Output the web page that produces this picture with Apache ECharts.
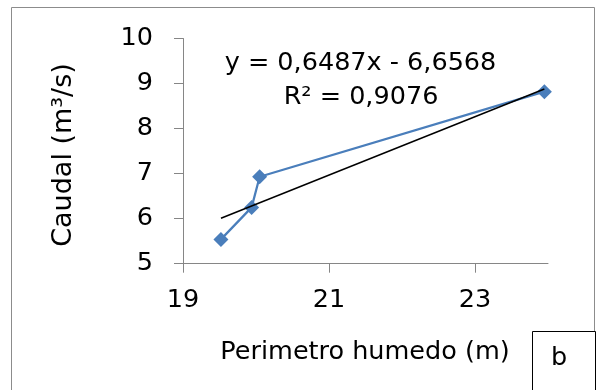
<!DOCTYPE html>
<html>
<head>
<meta charset="utf-8">
<script src="https://cdn.jsdelivr.net/npm/echarts@6/dist/echarts.min.js"></script>
<style>html,body{margin:0;padding:0;background:#fff}#c{width:598px;height:390px}</style>
</head>
<body>
<div id="c"></div>
<script>
const perimetro = [19.52, 19.94, 20.05, 23.95];
const caudal = [5.54, 6.25, 6.93, 8.82];
const trendX = [19.52, 23.95];
const trendY = [6.01, 8.88];
const xTicks = [19, 21, 23];
const yTicks = [5, 6, 7, 8, 9, 10];
const xTitle = 'Perimetro humedo (m)';
const yTitle = 'Caudal (m³/s)';
const eqLine1 = 'y = 0,6487x - 6,6568';
const eqLine2 = 'R² = 0,9076';
const panelLabel = 'b';

const FONT = 'DejaVu Sans';
const FS = 25.5;
const axisGray = '#868686';

const chart = echarts.init(document.getElementById('c'), null, {renderer: 'canvas'});
chart.setOption({
  animation: false,
  backgroundColor: '#fff',
  grid: {left: 183, right: 50, top: 38.5, bottom: 126.3, containLabel: false},
  xAxis: {
    type: 'value', min: 19, max: 24, interval: 2,
    splitLine: {show: false},
    axisLine: {show: true, onZero: false, lineStyle: {color: axisGray, width: 1}},
    axisTick: {show: true, length: 9, customValues: xTicks, lineStyle: {color: axisGray}},
    axisLabel: {customValues: xTicks, margin: 24, color: '#000', fontFamily: FONT, fontSize: FS}
  },
  yAxis: {
    type: 'value', min: 5, max: 10, interval: 1,
    splitLine: {show: false},
    axisLine: {show: true, onZero: false, lineStyle: {color: axisGray, width: 1}},
    axisTick: {show: true, length: 9, customValues: yTicks, lineStyle: {color: axisGray}},
    axisLabel: {customValues: yTicks, margin: 30, color: '#000', fontFamily: FONT, fontSize: FS}
  },
  series: [
    {
      type: 'line',
      data: perimetro.map((x, i) => [x, caudal[i]]),
      symbol: 'diamond', symbolSize: 15, showSymbol: true,
      lineStyle: {color: '#4a7ebb', width: 2.25},
      itemStyle: {color: '#4a7ebb'},
      z: 2
    },
    {
      type: 'line',
      data: trendX.map((x, i) => [x, trendY[i]]),
      symbol: 'none',
      lineStyle: {color: '#000', width: 1.5},
      z: 3
    }
  ],
  graphic: [
    {type: 'rect', shape: {x: 11.5, y: 7.5, width: 583, height: 400}, style: {fill: 'none', stroke: '#8c8c8c', lineWidth: 1}, z: 0, silent: true},
    {type: 'text', x: 64, y: 155, rotation: Math.PI / 2, style: {text: yTitle, fontFamily: FONT, fontSize: 27, fill: '#000', align: 'center', verticalAlign: 'middle'}},
    {type: 'text', x: 365, y: 352, style: {text: xTitle, fontFamily: FONT, fontSize: FS, fill: '#000', align: 'center', verticalAlign: 'middle'}},
    {type: 'text', x: 360.5, y: 63, style: {text: eqLine1, fontFamily: FONT, fontSize: FS, fill: '#000', align: 'center', verticalAlign: 'middle'}},
    {type: 'text', x: 361, y: 97, style: {text: eqLine2, fontFamily: FONT, fontSize: FS, fill: '#000', align: 'center', verticalAlign: 'middle'}},
    {type: 'rect', shape: {x: 532.5, y: 331.5, width: 63, height: 70}, style: {fill: '#fff', stroke: '#000', lineWidth: 1}, z: 10},
    {type: 'text', x: 559, y: 358, style: {text: panelLabel, fontFamily: FONT, fontSize: FS, fill: '#000', align: 'center', verticalAlign: 'middle'}, z: 11}
  ]
});
</script>
</body>
</html>
